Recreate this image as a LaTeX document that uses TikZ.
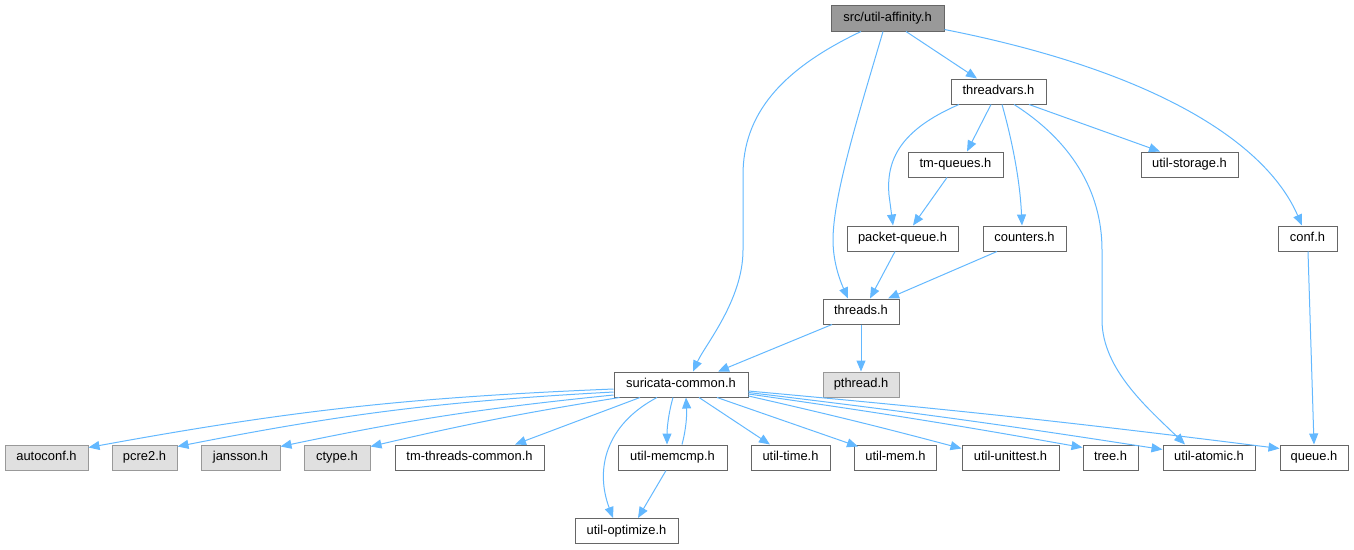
\documentclass[tikz,border=0pt]{standalone}
\usepackage{fontspec}
\setmainfont{Liberation Sans}
\usetikzlibrary{arrows.meta,calc}
\definecolor{edgec}{HTML}{63B8FF}
\definecolor{bordc}{HTML}{666666}
\definecolor{extb}{HTML}{999999}
\definecolor{extf}{HTML}{E0E0E0}
\definecolor{rootf}{HTML}{999999}
\begin{document}
\begin{tikzpicture}[x=1pt,y=-1pt,
  nd/.style={draw=bordc, fill=white, line width=1pt, inner sep=0pt, minimum height=25pt, text height=9.3pt, text depth=2.6pt, font=\fontsize{12.9}{15}\selectfont},
  ext/.style={nd, draw=extb, fill=extf},
  rootnd/.style={nd, fill=rootf, minimum height=26pt},
  e/.style={draw=edgec, line width=1pt, -{Triangle[length=11pt,width=9pt]}}]
\useasboundingbox (0,0) rectangle (1354,549);
% nodes
\node[rootnd, minimum width=113pt] (aff) at (887.5,18) {src/util-affinity.h};
\node[nd, minimum width=95pt] (tv) at (998.5,91.5) {threadvars.h};
\node[nd, minimum width=95pt] (tmq) at (955.5,164.5) {tm-queues.h};
\node[nd, minimum width=97pt] (stor) at (1189.5,164.5) {util-storage.h};
\node[nd, minimum width=111pt] (pq) at (902.5,238.5) {packet-queue.h};
\node[nd, minimum width=83pt] (cnt) at (1024.5,238.5) {counters.h};
\node[nd, minimum width=59pt] (conf) at (1307.5,238.5) {conf.h};
\node[nd, minimum width=76pt] (thr) at (861,311.5) {threads.h};
\node[nd, minimum width=134pt] (sc) at (681,384.5) {suricata-common.h};
\node[ext, minimum width=76pt] (pth) at (861,384.5) {pthread.h};
\node[ext, minimum width=83pt] (autoconf) at (46.5,457.5) {autoconf.h};
\node[ext, minimum width=65pt] (pcre) at (144.5,457.5) {pcre2.h};
\node[ext, minimum width=79pt] (jans) at (240.5,457.5) {jansson.h};
\node[ext, minimum width=66pt] (ctype) at (337,457.5) {ctype.h};
\node[nd, minimum width=149pt] (tmtc) at (469.5,457.5) {tm-threads-common.h};
\node[nd, minimum width=109pt] (mcmp) at (672.5,457.5) {util-memcmp.h};
\node[nd, minimum width=79pt] (time) at (790.5,457.5) {util-time.h};
\node[nd, minimum width=82pt] (mem) at (895.5,457.5) {util-mem.h};
\node[nd, minimum width=97pt] (unit) at (1010.5,457.5) {util-unittest.h};
\node[nd, minimum width=55pt] (tree) at (1110.5,457.5) {tree.h};
\node[nd, minimum width=92pt] (atom) at (1209,457.5) {util-atomic.h};
\node[nd, minimum width=68pt] (queue) at (1314,457.5) {queue.h};
\node[nd, minimum width=103pt] (opt) at (626.5,531) {util-optimize.h};
% edges from root
\draw[e] ($(aff.south)+(-26.5,0)$) .. controls (780,70) and (743,115) .. (743,175) -- (743,250) .. controls (743,300) and (705,345) .. ($(sc.north)+(12,0)$);
\draw[e] ($(aff.south)+(-4.5,0)$) .. controls (860,110) and (833,195) .. (833,240) .. controls (833,265) and (842,285) .. ($(thr.north)+(-13,0)$);
\draw[e] ($(aff.south)+(18.5,0)$) -- ($(tv.north)+(-21.5,0)$);
\draw[e] ($(aff.south east)+(0,-2)$) .. controls (1150,70) and (1265,140) .. ($(conf.north)+(-5.5,0)$);
% threadvars
\draw[e] ($(tv.south)+(-7.5,0)$) -- ($(tmq.north)+(11.5,0)$);
\draw[e] ($(tv.south)+(30.5,0)$) -- ($(stor.north)+(-29.5,0)$);
\draw[e] ($(tv.south)+(-39.5,0)$) .. controls (900,130) and (886,160) .. (889,195) -- ($(pq.north)+(-9.5,0)$);
\draw[e] ($(tv.south)+(3.5,0)$) .. controls (1012,140) and (1020,180) .. ($(cnt.north)+(-2.5,0)$);
\draw[e] ($(tv.south)+(15.5,0)$) .. controls (1070,140) and (1102,190) .. (1102,250) -- (1102,320) .. controls (1102,370) and (1150,410) .. ($(atom.north)+(-24,0)$);
% middle
\draw[e] ($(tmq.south)+(-8.5,0)$) -- ($(pq.north)+(10.5,0)$);
\draw[e] ($(pq.south)+(-7.5,0)$) -- ($(thr.north)+(9,0)$);
\draw[e] ($(cnt.south)+(-27.5,0)$) -- ($(thr.north)+(27,0)$);
\draw[e] ($(conf.south)+(0.5,0)$) -- (queue.north);
\draw[e] ($(thr.south)+(-29,0)$) -- ($(sc.north)+(37,0)$);
\draw[e] (thr.south) -- (pth.north);
% suricata-common
\draw[e] ($(sc.west)+(0,4.5)$) to[bend right=4] ($(autoconf.north east)+(0,3)$);
\draw[e] ($(sc.west)+(0,7.5)$) to[bend right=4] ($(pcre.north east)+(0,2)$);
\draw[e] ($(sc.west)+(0,10.5)$) to[bend right=3] ($(jans.north east)+(0,2)$);
\draw[e] ($(sc.south west)+(6,0)$) to[bend right=2] ($(ctype.north east)+(0,2)$);
\draw[e] ($(sc.south)+(-41,0)$) -- ($(tmtc.north)+(45.5,0)$);
\draw[e] ($(sc.south)+(-24,0)$) .. controls (605,425) and (595,470) .. ($(opt.north)+(-13.5,0)$);
\draw[e] ($(sc.south)+(-8,0)$) .. controls (668,415) and (667,430) .. ($(mcmp.north)+(-5.5,0)$);
\draw[e] ($(mcmp.north)+(9.5,0)$) .. controls (686,430) and (687,415) .. ($(sc.south)+(5,0)$);
\draw[e] ($(mcmp.south)+(-6.5,0)$) -- ($(opt.north)+(11.5,0)$);
\draw[e] ($(sc.south)+(18,0)$) -- ($(time.north)+(-20.5,0)$);
\draw[e] ($(sc.south)+(36,0)$) -- ($(mem.north west)+(4,2)$);
\draw[e] ($(sc.east)+(0,11.5)$) to[bend left=1] ($(unit.north west)+(0,4)$);
\draw[e] ($(sc.east)+(0,9.5)$) to[bend left=1] ($(tree.north west)+(0,3)$);
\draw[e] ($(sc.east)+(0,8)$) to[bend left=1] ($(atom.north west)+(0,5)$);
\draw[e] ($(sc.east)+(0,6.5)$) to[bend left=1] ($(queue.north west)+(0,4)$);
\end{tikzpicture}
\end{document}
